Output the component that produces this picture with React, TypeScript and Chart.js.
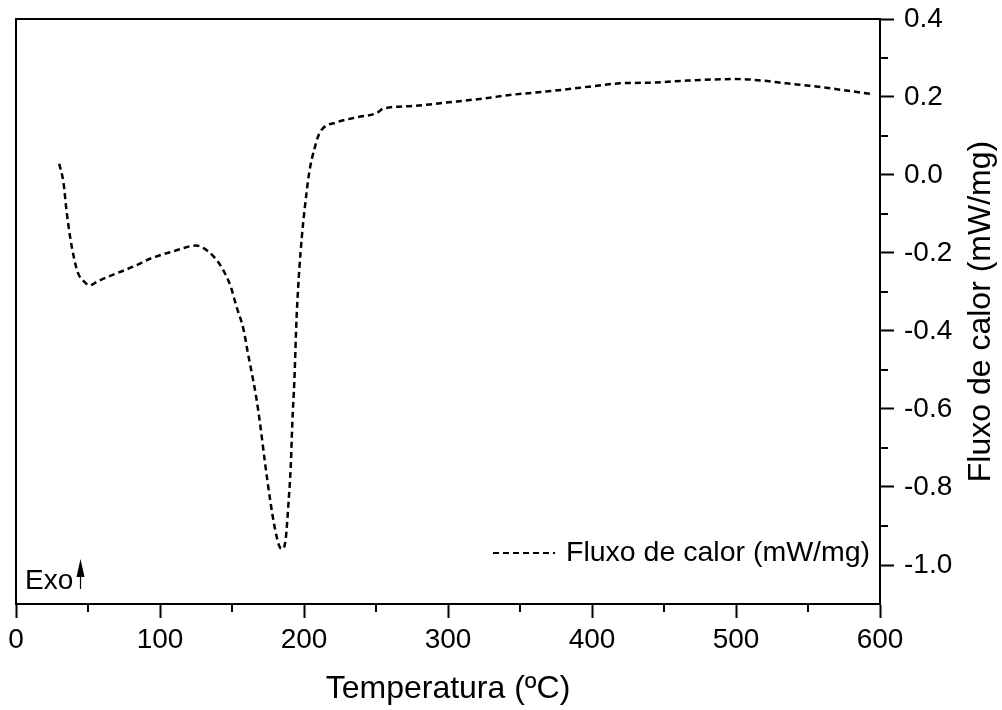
import { useEffect, useRef } from "react";
import { Chart, registerables } from "chart.js";

Chart.register(...registerables);

// Temperature (ºC) and heat flow (mW/mg)
const temperatures = [
  30, 33, 35, 37.5, 40, 43, 47, 51, 57, 68, 82, 95, 109, 125, 130, 137, 143,
  149, 153, 158, 161, 163.7, 166.7, 169.4, 172.9, 176.4, 179.9, 183.3, 185.2,
  187.3, 189.1, 190.8, 191.9, 193.3, 195, 202, 209, 212.3, 222.7, 236.6, 250.5,
  255, 276, 299, 322, 345, 368, 390, 408, 419, 443, 466, 500, 519, 535, 551,
  570, 595,
];
const heatFlow = [
  0.029, -0.02, -0.089, -0.157, -0.208, -0.251, -0.272, -0.283, -0.272, -0.255,
  -0.234, -0.212, -0.196, -0.181, -0.187, -0.208, -0.238, -0.285, -0.336,
  -0.396, -0.456, -0.507, -0.567, -0.635, -0.737, -0.831, -0.908, -0.955,
  -0.959, -0.933, -0.848, -0.746, -0.635, -0.528, -0.353, -0.038, 0.09, 0.116,
  0.135, 0.148, 0.159, 0.17, 0.177, 0.186, 0.195, 0.206, 0.214, 0.223, 0.231,
  0.235, 0.237, 0.242, 0.246, 0.242, 0.235, 0.229, 0.22, 0.207,
];

const xMajorTicks = [0, 100, 200, 300, 400, 500, 600];
const xMinorTicks = [50, 150, 250, 350, 450, 550];
const yMajorTicks = [-1.0, -0.8, -0.6, -0.4, -0.2, 0.0, 0.2, 0.4];
const yMinorTicks = [-0.9, -0.7, -0.5, -0.3, -0.1, 0.1, 0.3];

const seriesLabel = "Fluxo de calor (mW/mg)";
const xTitle = "Temperatura (ºC)";
const yTitle = "Fluxo de calor (mW/mg)";
const exoLabel = "Exo";

const FONT = '"Liberation Sans", Arial, Helvetica, sans-serif';

const decorPlugin = {
  id: "decor",
  afterDraw(chart: any) {
    const { ctx, chartArea, scales } = chart;
    const { left, right, top, bottom } = chartArea;
    ctx.save();
    ctx.strokeStyle = "#000";
    ctx.fillStyle = "#000";
    ctx.lineWidth = 2;
    // left and top frame lines
    ctx.beginPath();
    ctx.moveTo(left, bottom);
    ctx.lineTo(left, top);
    ctx.lineTo(right, top);
    ctx.stroke();
    // minor ticks
    ctx.beginPath();
    for (const v of xMinorTicks) {
      const px = Math.round(scales.x.getPixelForValue(v));
      ctx.moveTo(px, bottom);
      ctx.lineTo(px, bottom + 8);
    }
    for (const v of yMinorTicks) {
      const py = Math.round(scales.y.getPixelForValue(v));
      ctx.moveTo(right, py);
      ctx.lineTo(right + 8, py);
    }
    ctx.stroke();

    // axis titles
    ctx.font = `32px ${FONT}`;
    ctx.textAlign = "center";
    ctx.textBaseline = "middle";
    ctx.fillText(xTitle, (left + right) / 2, 689);
    ctx.save();
    ctx.translate(981, (top + bottom) / 2);
    ctx.rotate(-Math.PI / 2);
    ctx.fillText(yTitle, 0, 0);
    ctx.restore();

    // legend
    const ly = 553;
    ctx.save();
    ctx.lineWidth = 2;
    ctx.setLineDash([6, 4]);
    ctx.beginPath();
    ctx.moveTo(493, ly);
    ctx.lineTo(555, ly);
    ctx.stroke();
    ctx.restore();
    ctx.font = `28.5px ${FONT}`;
    ctx.textAlign = "left";
    ctx.textBaseline = "middle";
    ctx.fillText(seriesLabel, 566, ly);

    // Exo arrow
    ctx.font = `28px ${FONT}`;
    ctx.textBaseline = "alphabetic";
    ctx.fillText(exoLabel, 25, 589);
    ctx.lineWidth = 1.2;
    ctx.beginPath();
    ctx.moveTo(80.5, 589);
    ctx.lineTo(80.5, 570);
    ctx.stroke();
    ctx.beginPath();
    ctx.moveTo(80.5, 559);
    ctx.lineTo(84.5, 577);
    ctx.lineTo(76.5, 577);
    ctx.closePath();
    ctx.fill();
    ctx.restore();
  },
};

export default function App() {
  const canvasRef = useRef<HTMLCanvasElement | null>(null);

  useEffect(() => {
    if (!canvasRef.current) return;
    const points = temperatures.map((t, i) => ({ x: t, y: heatFlow[i] }));
    const chart = new Chart(canvasRef.current, {
      type: "line",
      data: {
        datasets: [
          {
            label: seriesLabel,
            data: points,
            borderColor: "#000",
            borderWidth: 2.5,
            borderDash: [6, 4],
            pointRadius: 0,
            fill: false,
            cubicInterpolationMode: "monotone",
          },
        ],
      },
      options: {
        responsive: false,
        animation: false,
        layout: { padding: { left: 16, top: 19, right: 0, bottom: 0 } },
        plugins: {
          legend: { display: false },
          tooltip: { enabled: false },
          title: { display: false },
        },
        scales: {
          x: {
            type: "linear",
            position: "bottom",
            min: 0,
            max: 600,
            afterBuildTicks: (scale: any) => {
              scale.ticks = xMajorTicks.map((v) => ({ value: v }));
            },
            afterFit: (scale: any) => {
              scale.height = 106;
              scale.paddingLeft = 0;
              scale.paddingRight = 0;
            },
            grid: {
              display: true,
              drawOnChartArea: false,
              drawTicks: true,
              tickLength: 14,
              tickWidth: 2,
              tickColor: "#000",
            },
            border: { display: true, color: "#000", width: 2 },
            ticks: {
              color: "#000",
              font: { family: FONT, size: 28 },
              padding: 5,
              maxRotation: 0,
              callback: (v: any) => String(v),
            },
          },
          y: {
            type: "linear",
            position: "right",
            min: -1.1,
            max: 0.4,
            afterBuildTicks: (scale: any) => {
              scale.ticks = yMajorTicks.map((v) => ({ value: v }));
            },
            afterFit: (scale: any) => {
              scale.width = 122;
              scale.paddingTop = 0;
              scale.paddingBottom = 0;
            },
            grid: {
              display: true,
              drawOnChartArea: false,
              drawTicks: true,
              tickLength: 14,
              tickWidth: 2,
              tickColor: "#000",
            },
            border: { display: true, color: "#000", width: 2 },
            ticks: {
              color: "#000",
              font: { family: FONT, size: 28 },
              padding: 10,
              callback: (v: any) => Number(v).toFixed(1),
            },
          },
        },
      },
      plugins: [decorPlugin],
    } as any);
    return () => chart.destroy();
  }, []);

  return (
    <div style={{ position: "absolute", left: 0, top: 0, width: 1002, height: 710, background: "#fff" }}>
      <canvas ref={canvasRef} width={1002} height={710} style={{ display: "block" }} />
    </div>
  );
}
